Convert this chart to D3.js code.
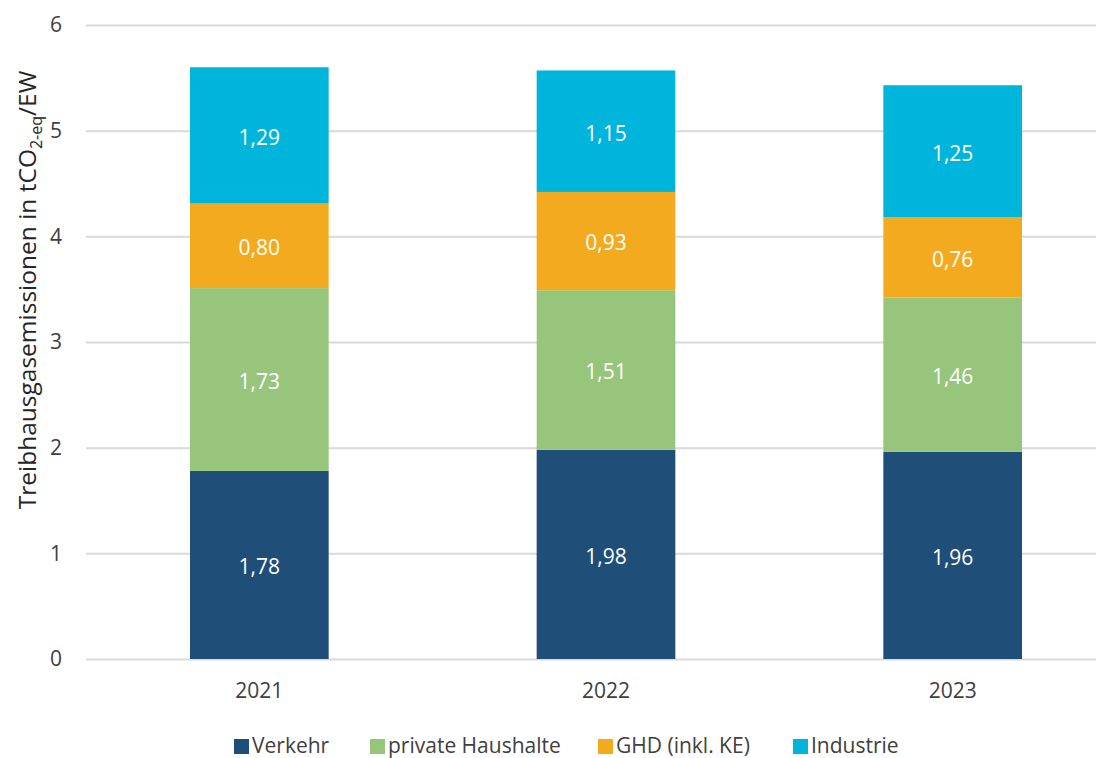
<!DOCTYPE html>
<html><head><meta charset="utf-8">
<script src="https://cdn.jsdelivr.net/npm/d3@7"></script>
<style>
html,body{margin:0;padding:0;background:#fff;}
svg{display:block;font-family:"Open Sans",sans-serif;}
</style></head>
<body>
<svg id="c" width="1096" height="758"></svg>
<script>
const years = ["2021", "2022", "2023"];
const seriesNames = ["Verkehr", "private Haushalte", "GHD (inkl. KE)", "Industrie"];
const verkehr = [1.78, 1.98, 1.96];
const haushalte = [1.73, 1.51, 1.46];
const ghd = [0.80, 0.93, 0.76];
const industrie = [1.29, 1.15, 1.25];
const colors = ["#1F4E79", "#98C57C", "#F4AA1F", "#00B5DB"];
const yTicks = [0, 1, 2, 3, 4, 5, 6];

const svg = d3.select("#c");
const plot = {left: 86, right: 1126, top: 25, bottom: 659};
const FONT = '"Open Sans", sans-serif';

const rows = years.map((y, i) => ({year: y, "Verkehr": verkehr[i], "private Haushalte": haushalte[i], "GHD (inkl. KE)": ghd[i], "Industrie": industrie[i]}));
const stack = d3.stack().keys(seriesNames)(rows);

const x = d3.scaleBand().domain(years).range([plot.left, plot.right]).paddingInner(0.6).paddingOuter(0.3);
const y = d3.scaleLinear().domain([0, 6]).range([plot.bottom, plot.top]);
const color = d3.scaleOrdinal().domain(seriesNames).range(colors);
const fmt = v => d3.format(".2f")(v).replace(".", ",");

// gridlines
const yAxis = d3.axisLeft(y).tickValues(yTicks).tickSize(-(plot.right - plot.left)).tickPadding(24).tickFormat(d3.format("d"));
const gy = svg.append("g").attr("transform", `translate(${plot.left},0)`).call(yAxis)
  .attr("font-family", FONT).attr("font-size", 21);
gy.select(".domain").remove();
gy.selectAll(".tick line").attr("stroke", "#d9d9d9").attr("stroke-width", 2);
gy.selectAll(".tick text").attr("fill", "#404040");

// bars
const layers = svg.append("g").selectAll("g").data(stack).join("g").attr("fill", d => color(d.key));
layers.selectAll("rect").data(d => d.map(p => ({p, key: d.key}))).join("rect")
  .attr("x", d => x(d.p.data.year))
  .attr("width", x.bandwidth())
  .attr("y", d => y(d.p[1]))
  .attr("height", d => y(d.p[0]) - y(d.p[1]));

// labels
layers.selectAll("text").data(d => d.map(p => ({p, key: d.key}))).join("text")
  .attr("x", d => x(d.p.data.year) + x.bandwidth() / 2)
  .attr("y", d => y((d.p[0] + d.p[1]) / 2) + 2)
  .attr("dy", "0.35em")
  .attr("text-anchor", "middle")
  .attr("fill", "#fff")
  .style("font-size", "21px")
  .text(d => fmt(d.p[1] - d.p[0]));

// x axis
const xAxis = d3.axisBottom(x).tickSize(0).tickPadding(24);
const gx = svg.append("g").attr("transform", `translate(0,${plot.bottom})`).call(xAxis)
  .attr("font-family", FONT).attr("font-size", 21);
gx.select(".domain").remove();
gx.selectAll(".tick text").attr("fill", "#404040");

// y title
const title = svg.append("text")
  .attr("transform", `translate(36,290) rotate(-90)`)
  .attr("text-anchor", "middle")
  .attr("fill", "#262626")
  .style("font-size", "24.5px");
title.append("tspan").text("Treibhausgasemissionen in tCO");
title.append("tspan").attr("dy", 6).style("font-size", "16px").text("2-eq");
title.append("tspan").attr("dy", -6).text("/EW");

// legend
const legendX = [234, 370, 598, 793];
const lg = svg.append("g").selectAll("g").data(seriesNames).join("g")
  .attr("transform", (d, i) => `translate(${legendX[i]},746)`);
lg.append("rect").attr("x", 0).attr("y", -7).attr("width", 15).attr("height", 15).attr("fill", d => color(d));
lg.append("text").attr("x", 18).attr("dy", "0.35em").attr("fill", "#404040").style("font-size", "21px").text(d => d);
</script>
</body></html>
